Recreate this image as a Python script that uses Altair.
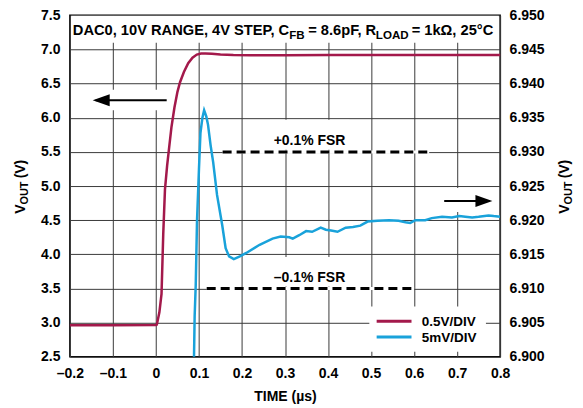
import altair as alt
import pandas as pd

FONT = "Liberation Sans"
GRID = "#3a3a3a"

# ---------------- data ----------------
x_ticks = [-0.2, -0.1, 0.0, 0.1, 0.2, 0.3, 0.4, 0.5, 0.6, 0.7, 0.8]
left_ticks = [2.5, 3.0, 3.5, 4.0, 4.5, 5.0, 5.5, 6.0, 6.5, 7.0, 7.5]
right_ticks = [6.900, 6.905, 6.910, 6.915, 6.920, 6.925, 6.930, 6.935, 6.940, 6.945, 6.950]

series_names = ["0.5V/DIV", "5mV/DIV"]
series_colors = ["#A3194B", "#19A2DA"]

red_time = [-0.200, -0.100, 0.000, 0.002, 0.008, 0.013, 0.017, 0.021, 0.026, 0.031,
            0.036, 0.043, 0.050, 0.056, 0.065, 0.075, 0.085, 0.095, 0.105, 0.115,
            0.130, 0.150, 0.180, 0.220, 0.300, 0.400, 0.500, 0.600, 0.700, 0.800]
red_vout = [2.962, 2.962, 2.963, 2.970, 3.150, 3.420, 4.300, 4.950, 5.300, 5.580,
            5.860, 6.150, 6.380, 6.520, 6.670, 6.800, 6.880, 6.925, 6.940, 6.942,
            6.936, 6.927, 6.918, 6.915, 6.917, 6.919, 6.920, 6.920, 6.920, 6.920]

blue_time = [0.087, 0.0885, 0.090, 0.0925, 0.0955, 0.100, 0.1035, 0.108, 0.112, 0.117,
             0.121, 0.127, 0.133, 0.142, 0.154, 0.162, 0.170, 0.181, 0.195, 0.210,
             0.241, 0.271, 0.290, 0.310, 0.318, 0.333, 0.349, 0.363, 0.383, 0.395,
             0.407, 0.422, 0.441, 0.458, 0.475, 0.492, 0.515, 0.542, 0.564, 0.580,
             0.591, 0.603, 0.626, 0.641, 0.665, 0.688, 0.705, 0.719, 0.735, 0.750,
             0.773, 0.785, 0.800]
blue_vout = [6.8950, 6.9000, 6.9060, 6.9105, 6.9200, 6.9275, 6.9328, 6.9350, 6.9361, 6.9352,
             6.9340, 6.9310, 6.9285, 6.9237, 6.9193, 6.9159, 6.9147, 6.9143, 6.9147, 6.9152,
             6.9164, 6.9173, 6.9176, 6.9175, 6.9173, 6.9178, 6.9184, 6.9183, 6.9189, 6.9186,
             6.9185, 6.9183, 6.9189, 6.9190, 6.9192, 6.9198, 6.9199, 6.9200, 6.9199, 6.9197,
             6.9196, 6.9200, 6.9200, 6.9203, 6.9205, 6.9204, 6.9206, 6.9205, 6.9204, 6.9205,
             6.9207, 6.9206, 6.9205]

fsr_text = ["+0.1% FSR", "\u20130.1% FSR"]
fsr_level = [6.930, 6.910]
fsr_from = [0.155, 0.118]
fsr_to = [0.635, 0.600]
fsr_text_time = [0.357, 0.357]
fsr_text_vout = [6.9310, 6.9109]
fsr_box_from = [0.265, 0.265]
fsr_box_to = [0.450, 0.450]
fsr_box_low = [6.9303, 6.9103]
fsr_box_high = [6.9347, 6.9146]

title_parts = ["DAC0, 10V RANGE, 4V STEP, C", "FB", "= 8.6pF, R", "LOAD", "= 1k\u03a9, 25\u00b0C"]
title_is_sub = [False, True, False, True, False]
axis_title_parts = ["V", "OUT", "(V)"]
axis_title_is_sub = [False, True, False]

# ---------------- scales & axes ----------------
xs = alt.Scale(domain=[-0.2, 0.8], nice=False, zero=False)
yl = alt.Scale(domain=[2.5, 7.5], nice=False, zero=False)
yr = alt.Scale(domain=[6.900, 6.950], nice=False, zero=False)
cs = alt.Scale(domain=series_names, range=series_colors)

common = dict(labelFont=FONT, labelFontSize=14, labelFontWeight="bold", labelColor="black",
              titleFont=FONT, titleFontSize=14, titleFontWeight="bold", titleColor="black",
              ticks=False, domain=False, labelFlush=False, labelOverlap=False,
              gridColor=GRID, gridWidth=1, gridOpacity=1)

x_axis = alt.Axis(values=x_ticks,
                  labelExpr="datum.value == 0 ? '0' : replace(format(datum.value, '.1f'), '\u2212', '\u2013')",
                  title="TIME (\u00b5s)", grid=True, labelPadding=10, titlePadding=9, **common)
yl_axis = alt.Axis(values=left_ticks, format=".1f", title=None, grid=True, labelPadding=10, **common)
yr_axis = alt.Axis(values=right_ticks, format=".3f", title=None, grid=False, orient="right",
                   labelPadding=9, **common)


def X(f):
    return alt.X(f, type="quantitative", scale=xs, axis=x_axis)


def YL(f):
    return alt.Y(f, type="quantitative", scale=yl, axis=yl_axis)


def YR(f):
    return alt.Y(f, type="quantitative", scale=yr, axis=yr_axis)


# ---------------- left-axis group ----------------
red_df = pd.DataFrame({"t": red_time, "v": red_vout, "s": series_names[0]})
red_line = alt.Chart(red_df).mark_line(strokeWidth=2.5).encode(
    x=X("t"), y=YL("v"), color=alt.Color("s:N", scale=cs, legend=None))

title_bg = alt.Chart(pd.DataFrame({"a": [-0.197], "b": [0.797], "lo": [7.10], "hi": [7.495]})) \
    .mark_rect(color="white").encode(x=X("a"), x2="b", y=YL("lo"), y2="hi")

larrow_bg = alt.Chart(pd.DataFrame({"a": [-0.152], "b": [0.030], "lo": [6.11], "hi": [6.41]})) \
    .mark_rect(color="white").encode(x=X("a"), x2="b", y=YL("lo"), y2="hi")

larrow_shaft = alt.Chart(pd.DataFrame({"a": [-0.140], "b": [0.025], "v": [6.257]})) \
    .mark_rule(color="black", strokeWidth=2).encode(x=X("a"), x2="b", y=YL("v"))
larrow_head = alt.Chart(pd.DataFrame({"a": [-0.147], "v": [6.257]})) \
    .mark_point(shape="M0,0L2,-0.7L2,0.7Z", size=289, filled=True, color="black", opacity=1) \
    .encode(x=X("a"), y=YL("v"))

legend_box = alt.Chart(pd.DataFrame({"a": [0.496], "b": [0.767], "lo": [2.572], "hi": [3.235]})) \
    .mark_rect(color="white").encode(x=X("a"), x2="b", y=YL("lo"), y2="hi")
legend_df = pd.DataFrame({"s": series_names, "a": [0.513, 0.513], "b": [0.594, 0.594],
                          "v": [3.020, 2.790], "lt": [0.618, 0.618]})
legend_rules = alt.Chart(legend_df).mark_rule(strokeWidth=3).encode(
    x=X("a"), x2="b", y=YL("v"), color=alt.Color("s:N", scale=cs, legend=None))
legend_text = alt.Chart(legend_df).mark_text(font=FONT, fontSize=13.5, fontWeight="bold", color="black",
                                             align="left", baseline="middle", dy=1).encode(
    x=X("lt"), y=YL("v"), text="s:N")

left_group = alt.layer(title_bg, larrow_bg, red_line, larrow_shaft, larrow_head,
                       legend_box, legend_rules, legend_text)

# ---------------- right-axis group ----------------
fsr_df = pd.DataFrame({"label": fsr_text, "lvl": fsr_level, "a": fsr_from, "b": fsr_to,
                       "tx": fsr_text_time, "ty": fsr_text_vout,
                       "ba": fsr_box_from, "bb": fsr_box_to, "blo": fsr_box_low, "bhi": fsr_box_high})
fsr_bg = alt.Chart(fsr_df).mark_rect(color="white").encode(x=X("ba"), x2="bb", y=YR("blo"), y2="bhi")
fsr_under = alt.Chart(fsr_df).mark_rule(color="white", strokeWidth=3).encode(x=X("a"), x2="b", y=YR("lvl"))
fsr_dash = alt.Chart(fsr_df).mark_rule(color="black", strokeWidth=3, strokeDash=[9, 5]).encode(
    x=X("a"), x2="b", y=YR("lvl"))
fsr_label = alt.Chart(fsr_df).mark_text(font=FONT, fontSize=14, fontWeight="bold", color="black",
                                        align="center", baseline="alphabetic").encode(
    x=X("tx"), y=YR("ty"), text="label:N")

blue_df = pd.DataFrame({"t": blue_time, "v": blue_vout, "s": series_names[1]})
blue_line = alt.Chart(blue_df).mark_line(strokeWidth=2.5, clip=True).encode(
    x=X("t"), y=YR("v"), color=alt.Color("s:N", scale=cs, legend=None))

rarrow_bg = alt.Chart(pd.DataFrame({"a": [0.655], "b": [0.795], "lo": [6.9212], "hi": [6.9247]})) \
    .mark_rect(color="white").encode(x=X("a"), x2="b", y=YR("lo"), y2="hi")
rarrow_shaft = alt.Chart(pd.DataFrame({"a": [0.670], "b": [0.775], "v": [6.9228]})) \
    .mark_rule(color="black", strokeWidth=2).encode(x=X("a"), x2="b", y=YR("v"))
rarrow_head = alt.Chart(pd.DataFrame({"a": [0.782], "v": [6.9228]})) \
    .mark_point(shape="M0,0L-2,-0.7L-2,0.7Z", size=289, filled=True, color="black", opacity=1) \
    .encode(x=X("a"), y=YR("v"))

right_group = alt.layer(fsr_bg, rarrow_bg, fsr_under, blue_line, fsr_dash, fsr_label,
                        rarrow_shaft, rarrow_head)

# ---------------- text with subscripts (pixel layout) ----------------
texts = []
main_fs, sub_fs = 14.7, 11.6
# (anchor x in plot pixels, text alignment) per title piece
title_x = [219.7, 219.7, 238.7, 306.5, 342.4]
title_align = ["right", "left", "left", "left", "left"]
for part, sub, px, al in zip(title_parts, title_is_sub, title_x, title_align):
    texts.append(alt.Chart(pd.DataFrame({"t": [part]})).mark_text(
        font=FONT, fontSize=sub_fs if sub else main_fs, fontWeight="bold", color="black",
        align=al, baseline="alphabetic").encode(
        x=alt.value(px), y=alt.value(19.8 + (3.5 if sub else 0)), text="t:N"))

ax_fs, ax_sub = 14, 11
ax_y = [198.7, 189.6, 163.3]
for base_x in [-45, 500]:
    for part, sub, py in zip(axis_title_parts, axis_title_is_sub, ax_y):
        texts.append(alt.Chart(pd.DataFrame({"t": [part]})).mark_text(
            font=FONT, fontSize=ax_sub if sub else ax_fs, fontWeight="bold", color="black",
            align="left", baseline="alphabetic", angle=270).encode(
            x=alt.value(base_x + (3 if sub else 0)), y=alt.value(py), text="t:N"))

chart = alt.layer(left_group, right_group, *texts).resolve_scale(y="independent").properties(
    width=431, height=342,
    padding={"left": 62, "top": 7, "right": 75, "bottom": 51},
    autosize=alt.AutoSizeParams(type="none"),
).configure_view(stroke="black", strokeWidth=1.5)

chart.save("out.html", embed_options={"renderer": "svg", "actions": False})
